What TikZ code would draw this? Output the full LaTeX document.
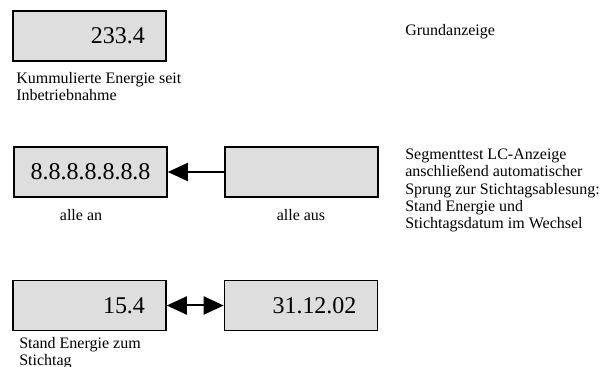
\documentclass[tikz,border=0pt]{standalone}
\usepackage{fontspec}
\setmainfont{Liberation Serif}
\usetikzlibrary{arrows.meta}

\tikzset{
	anzeige/.style={draw, line width=1.2pt, fill=black!13, minimum width=114.75pt, minimum height=37.5pt, font=\fontsize{18}{20}\selectfont},
	rechts/.style={anzeige, inner xsep=15.75pt, text width=83.25pt, align=right},
	notiz/.style={inner sep=0pt, align=left, font=\fontsize{12}{13.1}\selectfont},
	pfeil/.style={line width=1.5pt, -{Triangle[length=15pt, width=13.5pt]}}
}

\begin{document}
\begin{tikzpicture}[x=0.75pt, y=-0.75pt]
	\useasboundingbox (0,0) rectangle (615,367);
	
	\node [rechts] (grund) at (89.5,36) {233.4};
	\node [anzeige] (allean) at (90.5,172) {8.8.8.8.8.8.8};
	\node [anzeige] (alleaus) at (301.5,172) {};
	\node [rechts] (energie) at (89.5,305.5) {15.4};
	\node [rechts] (datum) at (301,305.5) {31.12.02};
	
	% base anchor of the multi-line notes = last line
	\node [notiz, anchor=base west] (kumm) at (16,100.5) {Kummulierte Energie seit\\Inbetriebnahme};
	\node [notiz, anchor=base west] (grundtxt) at (405,36) {Grundanzeige};
	\node [notiz, anchor=base west] (segtxt) at (405,229) {Segmenttest LC-Anzeige\\anschließend automatischer\\Sprung zur Stichtagsablesung:\\Stand Energie und\\Stichtagsdatum im Wechsel};
	\node [notiz, anchor=base] (antxt) at (81,221) {alle an};
	\node [notiz, anchor=base] (austxt) at (301,221) {alle aus};
	\node [notiz, anchor=base west] (standtxt) at (19,366) {Stand Energie zum\\Stichtag};
	
	\draw [pfeil] (alleaus) -- (allean);
	\draw [pfeil, {Triangle[length=15pt, width=13.5pt]}-{Triangle[length=15pt, width=13.5pt]}] (energie) -- (datum);
\end{tikzpicture}
\end{document}
